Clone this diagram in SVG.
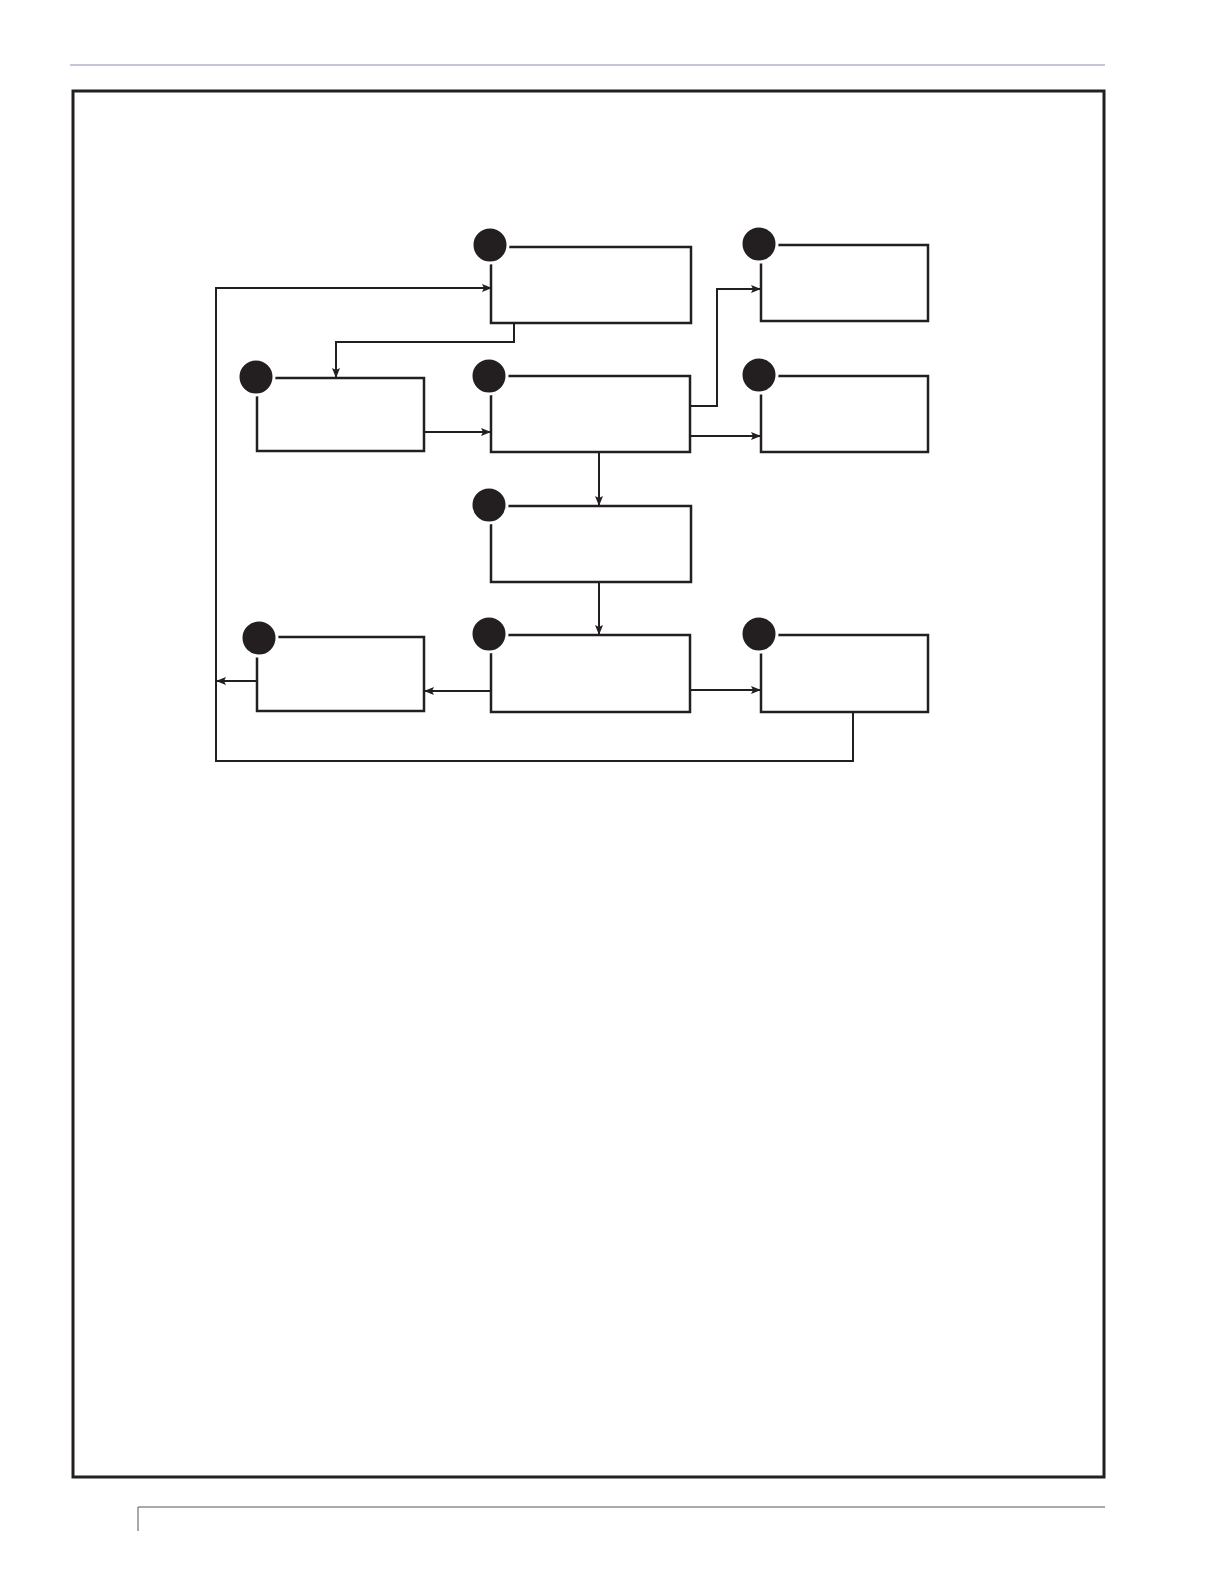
<svg xmlns="http://www.w3.org/2000/svg" width="1224" height="1584" viewBox="0 0 1224 1584">
<style>
.box{fill:#fff;stroke:#231f20;stroke-width:2.5}
.dot{fill:#231f20;stroke:#fff;stroke-width:3}
.c{fill:none;stroke:#231f20;stroke-width:2}
</style>
<defs><marker id="ah" markerWidth="10" markerHeight="8" refX="9" refY="4" orient="auto" markerUnits="userSpaceOnUse"><path d="M0,0 L10,4 L0,8 L2,4 Z" fill="#231f20"/></marker></defs>
<rect width="1224" height="1584" fill="#fff"/>
<line x1="70" y1="65" x2="1105" y2="65" stroke="#8a8fb0" stroke-width="1"/>
<rect x="73" y="91" width="1031" height="1386" fill="none" stroke="#231f20" stroke-width="3"/>
<path d="M138,1531 V1507 H1105" fill="none" stroke="#555" stroke-width="1"/>
<g id="connectors">
<path class="c" d="M853,712 V761 H216 V288 H491" marker-end="url(#ah)"/>
<path class="c" d="M257,681 H217" marker-end="url(#ah)"/>
<path class="c" d="M514,323 V342 H336 V377" marker-end="url(#ah)"/>
<path class="c" d="M424,432 H490" marker-end="url(#ah)"/>
<path class="c" d="M690,406 H717 V289 H760" marker-end="url(#ah)"/>
<path class="c" d="M690,436 H760" marker-end="url(#ah)"/>
<path class="c" d="M599,452 V505" marker-end="url(#ah)"/>
<path class="c" d="M599,582 V634" marker-end="url(#ah)"/>
<path class="c" d="M491,691 H425" marker-end="url(#ah)"/>
<path class="c" d="M690,690 H760" marker-end="url(#ah)"/>
</g>
<g id="nA"><rect class="box" x="491" y="247" width="200" height="76"/><circle class="dot" cx="490" cy="245" r="18"/></g>
<g id="nR1"><rect class="box" x="761" y="245" width="167" height="76"/><circle class="dot" cx="759" cy="244" r="18"/></g>
<g id="nB"><rect class="box" x="257" y="378" width="167" height="73"/><circle class="dot" cx="256" cy="377" r="18"/></g>
<g id="nC"><rect class="box" x="491" y="376" width="199" height="76"/><circle class="dot" cx="489" cy="376" r="18"/></g>
<g id="nR2"><rect class="box" x="761" y="376" width="167" height="76"/><circle class="dot" cx="759" cy="375" r="18"/></g>
<g id="nD"><rect class="box" x="491" y="506" width="200" height="76"/><circle class="dot" cx="489" cy="505" r="18"/></g>
<g id="nE"><rect class="box" x="491" y="635" width="199" height="77"/><circle class="dot" cx="489" cy="634" r="18"/></g>
<g id="nF"><rect class="box" x="257" y="637" width="167" height="74"/><circle class="dot" cx="259" cy="638" r="18"/></g>
<g id="nG"><rect class="box" x="761" y="635" width="167" height="77"/><circle class="dot" cx="759" cy="634" r="18"/></g>
</svg>
